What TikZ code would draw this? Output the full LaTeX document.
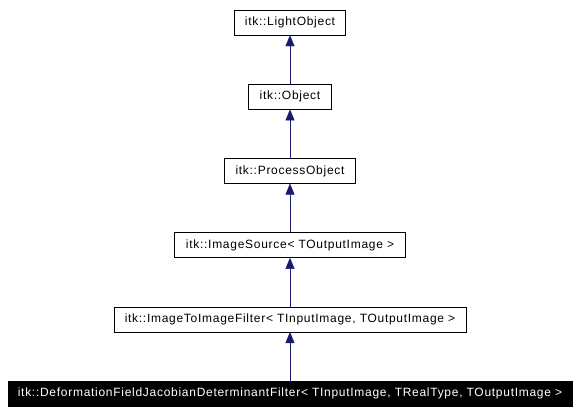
\documentclass[tikz,border=0pt]{standalone}
\usepackage{fontspec}
\setmainfont{Liberation Sans}
\usetikzlibrary{arrows.meta,positioning}
\definecolor{edgeblue}{RGB}{25,25,112}

\begin{document}
\begin{tikzpicture}[x=1pt,y=-1pt,
  cls/.style={rectangle, draw=black, fill=white, minimum height=25pt, inner sep=0pt, align=center, font=\fontsize{12}{14}\selectfont\addfontfeature{LetterSpace=6}},
  cur/.style={cls, fill=black, text=white},
  inherit/.style={draw=edgeblue, -{Triangle[length=11pt,width=9pt]}}]

\useasboundingbox (0,0) rectangle (580,415);

\node[cur, minimum width=564pt] (jac) at (290,393.5) {itk::DeformationFieldJacobianDeterminantFilter< TInputImage, TRealType, TOutputImage >};

\node[cls, minimum width=352pt, above=48.8pt of jac] (i2i) {itk::ImageToImageFilter< TInputImage, TOutputImage >};

\node[cls, minimum width=231pt, above=48.8pt of i2i] (src) {itk::ImageSource< TOutputImage >};

\node[cls, minimum width=131pt, above=48.8pt of src] (proc) {itk::ProcessObject};

\node[cls, minimum width=83pt, above=48.8pt of proc] (obj) {itk::Object};

\node[cls, minimum width=111pt, above=48.8pt of obj] (light) {itk::LightObject};

\draw[inherit] (jac) -- (i2i);
\draw[inherit] (i2i) -- (src);
\draw[inherit] (src) -- (proc);
\draw[inherit] (proc) -- (obj);
\draw[inherit] (obj) -- (light);

\end{tikzpicture}
\end{document}
